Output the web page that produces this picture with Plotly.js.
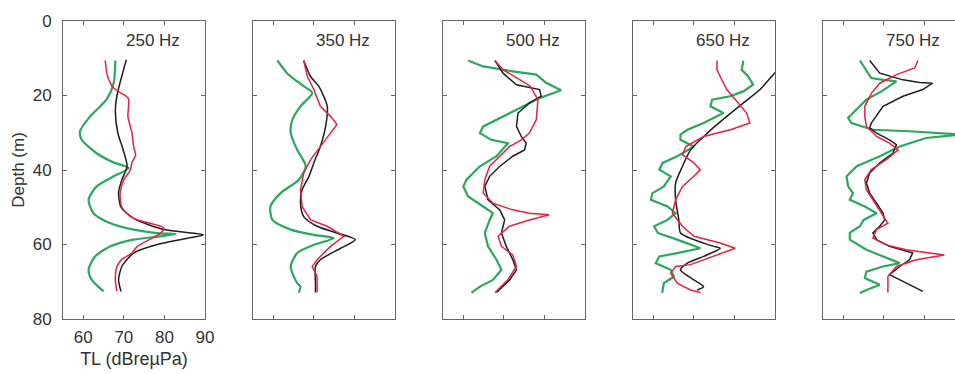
<!DOCTYPE html>
<html>
<head>
<meta charset="utf-8">
<script src="https://cdn.plot.ly/plotly-3.0.1.min.js"></script>
<style>
html,body{margin:0;padding:0;overflow:hidden;background:#fff;}
#chart{width:970px;height:374px;}
</style>
</head>
<body>
<div id="chart"></div>
<script>
// Frequencies (panel titles)
const freqs = ["250 Hz", "350 Hz", "500 Hz", "650 Hz", "750 Hz"];
const xTicks = [60, 70, 80, 90];
const yTicks = [0, 20, 40, 60, 80];

// ---- 250 Hz ----
const d250Black = [10.4, 20, 24, 30, 34.5, 39, 42.6, 46, 50, 53, 56, 57.4, 58.3, 60, 62.3, 65.9, 69.5, 72.6];
const tl250Black = [70.6, 68.3, 67.9, 68.5, 69.8, 70.8, 69.5, 68.7, 69.3, 72.4, 79.9, 89.6, 85.7, 78.2, 72.4, 69.5, 68.7, 69.3];
const d250Red = [10.6, 14.9, 18, 19.2, 20.2, 21, 25.6, 30, 33.7, 36, 38, 40, 42.6, 46, 50, 53, 55.6, 57, 60.5, 62.3, 64, 65.9, 69.5, 72.6];
const tl250Red = [65.4, 66, 67.5, 69.1, 70.6, 71.2, 71, 72, 72.4, 72.9, 72, 71.6, 70, 69.1, 69.5, 72.4, 79.9, 79, 73.3, 72, 69.5, 68.3, 67.9, 68.3];
const d250Green = [10.6, 16.6, 21, 25.6, 29.6, 31.9, 35.5, 38, 39.5, 41.7, 44.4, 48, 51.6, 54.3, 56, 57, 57.2, 57.8, 58.7, 60.5, 63.2, 66.8, 69.5, 72.6];
const tl250Green = [67.9, 67.5, 65.8, 61.7, 59.2, 59.6, 63.3, 67.5, 71.2, 67.5, 63.3, 61.3, 62.5, 66.7, 72.4, 79, 82.8, 79, 72.4, 66.7, 62.9, 61.3, 62.1, 65];

// ---- 350 Hz ----
const d350Black = [10.6, 14.9, 17.5, 22.9, 28.3, 33.7, 38.1, 41.7, 45.3, 48.9, 52.5, 55.1, 56.9, 58.7, 61, 64.1, 65.9, 70.4, 72.9];
const tl350Black = [67.5, 69.2, 71.2, 73.3, 72.9, 71.6, 70, 68.8, 67.1, 66.7, 67.5, 70.8, 75.7, 80.2, 76.6, 71.6, 70.4, 70.4, 70.4];
const d350Red = [10.6, 14.9, 18.4, 22.9, 25.6, 27.8, 30.1, 33.7, 37.2, 40.8, 45.3, 49.8, 53.4, 55.1, 57.8, 60.5, 64.1, 65.9, 68.6, 72.9];
const tl350Red = [67.5, 68.4, 70, 71.6, 74.1, 75.7, 74.1, 71.6, 69.2, 67.5, 66.7, 67.1, 69.2, 73.3, 77.4, 74.1, 70.8, 69.6, 70.8, 70.8];
const d350Green = [10.6, 14, 17.5, 19.3, 22.9, 26.5, 30.1, 34.6, 39, 42.6, 46.2, 49.8, 53.4, 56, 57.4, 58.3, 60.1, 62.3, 65.9, 70.4, 71.3, 72.9];
const tl350Green = [61, 63.4, 67.5, 69.6, 66.7, 64.7, 64.3, 65.9, 68, 66.3, 61.8, 59.3, 59.8, 64.3, 70, 74.9, 70, 65.9, 64.3, 65.9, 66.7, 66.3];

// ---- 500 Hz ----
const d500Black = [10.6, 14, 17.1, 18.4, 20.2, 22, 24.7, 28.3, 31, 32.8, 34.6, 36.3, 39, 41.7, 44.4, 48, 50.7, 53.4, 56.9, 60.5, 64.1, 66.8, 69.5, 72.9];
const tl500Black = [67.8, 69.8, 73.1, 78.8, 79.2, 76.3, 73.5, 73.1, 74.3, 75.5, 75.1, 72.2, 69, 66.5, 65.3, 66.1, 69, 70.2, 69.4, 70.6, 72.2, 73.1, 71.4, 68.2];
const d500Red = [10.6, 13.1, 15.8, 17.5, 21.1, 26.5, 30.1, 31.9, 33.7, 36.3, 39, 42.6, 46.2, 48.9, 50.7, 51.6, 52, 53.4, 55.1, 57.8, 60.5, 62.8, 65.9, 69.5, 72.9];
const tl500Red = [67.8, 69.8, 74, 76.5, 78.4, 78, 76.3, 74.3, 71.4, 69, 66.5, 65.3, 64.9, 67.3, 72.2, 76.3, 81.2, 76.3, 71.4, 68.6, 69.4, 72.2, 73.1, 71, 67.8];
const d500Green = [10.6, 12.2, 13.5, 14.4, 16.6, 18.6, 20.7, 22.9, 25.6, 28.3, 30.1, 31.9, 32.8, 36.3, 39, 42.6, 44.4, 47.1, 49.8, 51.6, 53.4, 56.9, 60.5, 64.1, 66.8, 69.5, 71.3, 73];
const tl500Green = [61.2, 64.9, 72.2, 78, 80.4, 84.1, 78.8, 74.7, 69.8, 64.9, 64.1, 66.9, 71, 68.2, 64.1, 60.8, 60, 61.2, 64.9, 67.3, 66.5, 65.3, 66.1, 68.2, 69.4, 67.3, 64.1, 62];

// ---- 650 Hz ----
const d650Black = [10.6, 14, 18.4, 22, 25.6, 30.1, 34.6, 39, 43.5, 48, 53.4, 56.9, 58.7, 60.5, 61, 63.2, 65, 66.8, 69.5, 71.3, 72.2];
const tl650Black = [92.7, 89.9, 86.3, 82.2, 78.1, 73.3, 69.2, 67.2, 65.5, 65.5, 66.3, 66.7, 70, 74.9, 76.5, 72.4, 68.4, 66.7, 70, 72.4, 70.8];
const d650Red = [10.6, 13.1, 14.9, 18.4, 21.1, 24.7, 27.4, 29.2, 31, 33.7, 35.9, 38.1, 39.9, 41.7, 44.4, 48, 51.6, 53.4, 55.1, 57.8, 59.6, 61, 63.2, 65.4, 65.9, 67.7, 70.4, 72.2, 72.9];
const tl650Red = [75.7, 75.7, 76.5, 78.1, 80.2, 83, 83.8, 79, 72.4, 68, 67.2, 70, 71.6, 70, 67.2, 65.5, 64.7, 65.9, 67.2, 70, 76.5, 80.2, 74.9, 69.2, 65.5, 64.3, 65.9, 69.2, 71.6];
const d650Green = [10.6, 13.1, 14.9, 17.1, 18.9, 20.2, 21.1, 22.9, 24.7, 27.4, 29.2, 30.5, 31.9, 33.7, 36.3, 38.1, 39.9, 41.7, 44.4, 46.2, 48, 49.8, 51.6, 53.4, 55.1, 56.9, 58.7, 61, 62.3, 63.2, 65, 66.8, 68.6, 70.4, 73];
const tl650Green = [82.2, 81.8, 83.4, 84.6, 82.2, 78.9, 74.5, 74.1, 77.3, 72.4, 68.4, 66.7, 66.7, 70, 65.9, 62.3, 61.5, 64.3, 62.6, 59.8, 59.4, 63.5, 65.5, 63.5, 60.2, 61.1, 65.9, 71.6, 65.9, 61.5, 60.6, 64.3, 65.1, 62.6, 62.2];

// ---- 750 Hz ----
const d750Black = [10.6, 14, 15.8, 16.5, 16.7, 18.4, 20.2, 22.9, 27.4, 28.7, 30.1, 31.9, 33.2, 35.5, 38.1, 40.8, 43.5, 46.2, 48.9, 51.6, 53.4, 55.1, 56.9, 58.7, 60.5, 62.3, 64.1, 65.9, 68.1, 70.4, 72.6];
const tl750Black = [66.5, 69, 74.7, 78.8, 82, 79.6, 74.7, 69.8, 66.9, 66.5, 68.2, 71.4, 73.1, 72.2, 69, 66.5, 65.7, 66.5, 68.2, 69.8, 70.2, 69, 67.3, 68.2, 71.4, 77.1, 76.3, 73.9, 71.4, 75.5, 79.6];
const d750Red = [10.6, 12.6, 14.4, 16.7, 19.3, 22.9, 25.6, 28.3, 31, 32.8, 34.6, 37.2, 39.9, 42.6, 45.3, 48, 50.7, 54.3, 56, 58.3, 60.1, 61.4, 62.8, 64.1, 65.9, 68.6, 72.9];
const tl750Red = [78.4, 77.6, 73.1, 69, 67, 65.3, 65.3, 65.7, 68.2, 71.4, 73.5, 70.6, 66.9, 65.3, 65.7, 67.3, 69, 71, 68.2, 67.3, 70.6, 75.5, 84.9, 78, 73.1, 71, 71];
const d750Green = [10.6, 13.1, 15.3, 15.8, 16.2, 18.9, 21.1, 24.7, 26, 27.4, 29.2, 29.6, 30.5, 31.4, 33.7, 36.3, 39, 41.7, 44.4, 46.2, 48, 49.8, 51.6, 53.4, 55.1, 56.9, 58.7, 61.4, 63.2, 65, 65.9, 67.3, 69, 70.8, 72.2, 73];
const tl750Green = [64.1, 65.7, 66.9, 69.8, 73.1, 69.4, 65.7, 62.4, 61.2, 62, 67.3, 76.3, 89, 80.4, 73.9, 69, 63.3, 60.8, 61.2, 62.4, 61.6, 65.3, 68.2, 65, 64.1, 61.6, 61.6, 65.7, 69.8, 73.9, 69.8, 65.7, 65.3, 69, 65.7, 64.1];

const panels = [
  {black:[d250Black, tl250Black], red:[d250Red, tl250Red], green:[d250Green, tl250Green]},
  {black:[d350Black, tl350Black], red:[d350Red, tl350Red], green:[d350Green, tl350Green]},
  {black:[d500Black, tl500Black], red:[d500Red, tl500Red], green:[d500Green, tl500Green]},
  {black:[d650Black, tl650Black], red:[d650Red, tl650Red], green:[d650Green, tl650Green]},
  {black:[d750Black, tl750Black], red:[d750Red, tl750Red], green:[d750Green, tl750Green]}
];
// panels whose curves look smooth in the original
const smoothPanels = {0:['green','black','red'], 1:['green','black'], 3:['black']};

const W = 970, H = 374;
const colors = {green:'#2aa85c', black:'#1e1e1e', red:'#e6213f'};
const widths = {green:2.2, black:1.5, red:1.5};
const FONT = '"Liberation Sans", Arial, sans-serif';
const traces = [];
const layout = {
  width: W, height: H,
  margin: {l:0, r:0, t:21, b:55, pad:0},
  paper_bgcolor:'#ffffff', plot_bgcolor:'#ffffff',
  showlegend:false,
  font:{family:FONT, size:17, color:'#333'},
  annotations: []
};

panels.forEach((p, i) => {
  const sfx = i === 0 ? '' : String(i + 1);
  ['green','black','red'].forEach(k => {
    const smooth = (smoothPanels[i] || []).includes(k);
    traces.push({
      type:'scatter', mode:'lines',
      x: p[k][1], y: p[k][0],
      xaxis:'x' + sfx, yaxis:'y' + sfx,
      line: smooth ? {color:colors[k], width:widths[k], shape:'spline', smoothing:0.7}
                   : {color:colors[k], width:widths[k], shape:'linear'},
      hoverinfo:'skip'
    });
  });
  const left = 63 + 190 * i;
  const right = left + 142;
  layout['xaxis' + sfx] = {
    domain:[left / W, right / W], range:[55, 90], anchor:'y' + sfx,
    tickvals:xTicks, ticks:'inside', ticklen:4, tickcolor:'#666', tickwidth:1,
    showline:true, linecolor:'#666', linewidth:1, mirror:'ticks',
    showgrid:false, zeroline:false, showticklabels: i === 0,
    tickfont:{size:17, color:'#333'}, automargin:false, ticklabelstandoff:3,
    title: i === 0 ? {text:'TL (dBreµPa)', font:{size:18, color:'#333'}, standoff:5} : {text:''}
  };
  layout['yaxis' + sfx] = {
    domain:[0, 1], range:[80, 0], anchor:'x' + sfx,
    tickvals:yTicks, ticks:'inside', ticklen:4, tickcolor:'#666', tickwidth:1,
    showline:true, linecolor:'#666', linewidth:1, mirror:'ticks',
    showgrid:false, zeroline:false, showticklabels: i === 0,
    tickfont:{size:17, color:'#333'}, automargin:false, ticklabelstandoff:7,
    title: i === 0 ? {text:'Depth (m)', font:{size:17, color:'#333'}, standoff:3} : {text:''}
  };
  layout.annotations.push({
    text: freqs[i], xref:'x' + sfx + ' domain', yref:'y' + sfx + ' domain',
    x:0.43, y:0.936, xanchor:'left', yanchor:'middle', showarrow:false,
    font:{size:17, color:'#333'}
  });
});

Plotly.newPlot('chart', traces, layout, {displayModeBar:false, staticPlot:true});
</script>
</body>
</html>
